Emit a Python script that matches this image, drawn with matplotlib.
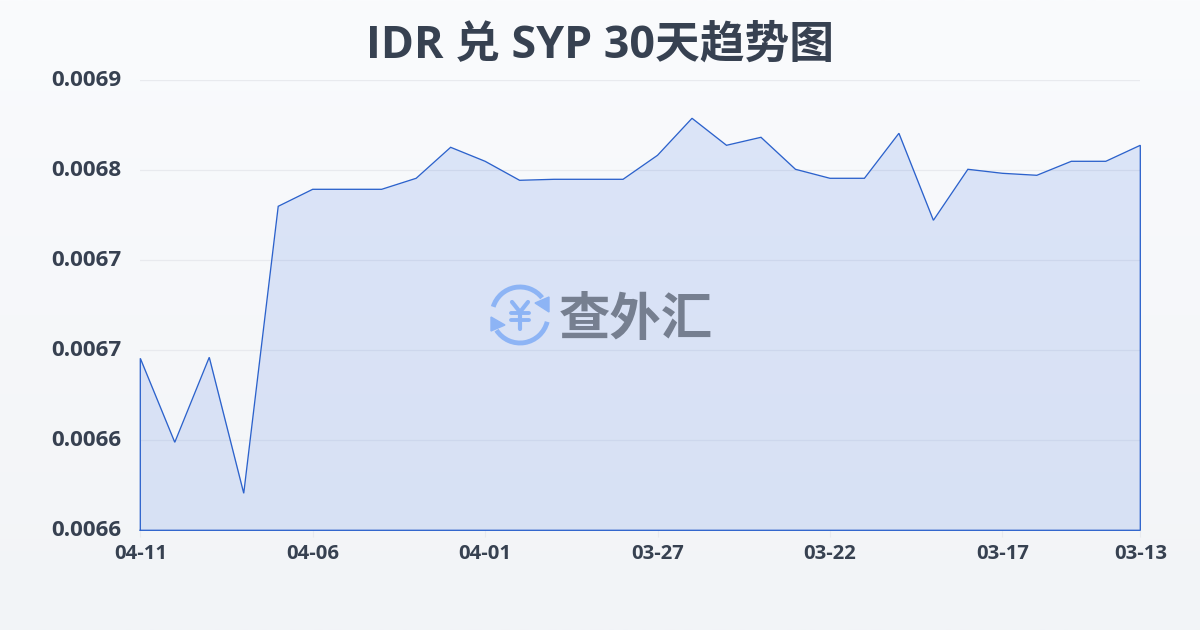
import numpy as np
import matplotlib
matplotlib.use("Agg")
import matplotlib.pyplot as plt
from matplotlib.patches import Arc, Polygon

plt.rcParams['font.family'] = ['Open Sans', 'Noto Sans CJK SC', 'DejaVu Sans']

title = "IDR 兑 SYP 30天趋势图"
rates = [0.00667467, 0.00661867, 0.00667533, 0.00658467, 0.00677600, 0.00678733,
         0.00678733, 0.00678733, 0.00679467, 0.00681533, 0.00680600, 0.00679333,
         0.00679400, 0.00679400, 0.00679400, 0.00681000, 0.00683467, 0.00681667,
         0.00682200, 0.00680067, 0.00679467, 0.00679467, 0.00682467, 0.00676667,
         0.00680067, 0.00679800, 0.00679667, 0.00680600, 0.00680600, 0.00681667]
xtick_pos = [0, 5, 10, 15, 20, 25, 29]
xtick_labels = ["04-11", "04-06", "04-01", "03-27", "03-22", "03-17", "03-13"]
ytick_vals = [0.00656, 0.00662, 0.00668, 0.00674, 0.00680, 0.00686]
ytick_labels = ["0.0066", "0.0066", "0.0067", "0.0067", "0.0068", "0.0069"]
x = np.arange(len(rates))

W, H = 1200, 630
fig = plt.figure(figsize=(12, 6.3), dpi=100)

bg = fig.add_axes([0, 0, 1, 1], zorder=0)
grad = np.linspace(0, 1, 256)[:, None, None]
top = np.array([0xfa, 0xfb, 0xfd]) / 255
bot = np.array([0xf2, 0xf4, 0xf7]) / 255
bg.imshow(top + (bot - top) * grad, aspect='auto', extent=[0, W, H, 0])
bg.set_xlim(0, W); bg.set_ylim(H, 0); bg.axis('off')

ax = fig.add_axes([140.3 / W, 1 - 530.3 / H, 1000 / W, 450 / H], zorder=1)
ax.patch.set_alpha(0)
ax.set_xlim(0, 29)
ax.set_ylim(0.00656, 0.00686)
ax.set_yticks(ytick_vals, ytick_labels)
ax.set_xticks(xtick_pos, xtick_labels)
ax.grid(axis='y', color='#e8eaee', lw=0.9, zorder=1)
ax.set_axisbelow(True)
for s in ax.spines.values():
    s.set_visible(False)
ax.tick_params(axis='y', length=0, pad=13.5, labelsize=16.1, labelcolor='#374151')
ax.tick_params(axis='x', length=5, width=0.8, color='#e8eaee', pad=5, labelsize=14.6, labelcolor='#374151')
for t in ax.get_xticklabels() + ax.get_yticklabels():
    t.set_fontweight('bold')
for t in ax.get_yticklabels():
    t.set_transform(t.get_transform() + matplotlib.transforms.ScaledTranslation(0, 2 / 100, fig.dpi_scale_trans))

ax.fill_between(x, rates, 0.00656, color='#2f68e0', alpha=0.14, lw=0, zorder=2)
ax.plot(np.r_[x[0], x, x[-1], x[0]], np.r_[0.00656, rates, 0.00656, 0.00656],
        color='#2c62cc', lw=0.95, zorder=3, clip_on=False, solid_joinstyle='miter')

fig.text(600 / W, 1 - 46.5 / H, title, ha='center', va='center', fontsize=32.2,
         fontweight='bold', color='#374151')

# watermark
ov = fig.add_axes([0, 0, 1, 1], zorder=3)
ov.set_xlim(0, W); ov.set_ylim(H, 0); ov.axis('off')
blue = '#8db4f5'
c = (520, 315)
ov.add_patch(Arc(c, 56, 56, theta1=197, theta2=322, color=blue, lw=3.5))
ov.add_patch(Arc(c, 56, 56, theta1=14, theta2=147, color=blue, lw=3.5))
ov.add_patch(Polygon([[549, 297], [549, 312], [535, 303]], color=blue))
ov.add_patch(Polygon([[491, 317], [491, 331], [505, 325]], color=blue))
ov.plot([512, 520, 528], [302, 312, 302], color=blue, lw=3, solid_capstyle='round')
ov.plot([520, 520], [312, 329], color=blue, lw=3, solid_capstyle='round')
ov.plot([511, 529], [313, 313], color=blue, lw=2.8, solid_capstyle='round')
ov.plot([511, 529], [320, 320], color=blue, lw=2.8, solid_capstyle='round')
ov.text(636, 319, "查外汇", ha='center', va='center', fontsize=37,
        fontweight='bold', color='#767f90', family=['Noto Sans CJK SC'])

fig.savefig("out.png", dpi=100)
